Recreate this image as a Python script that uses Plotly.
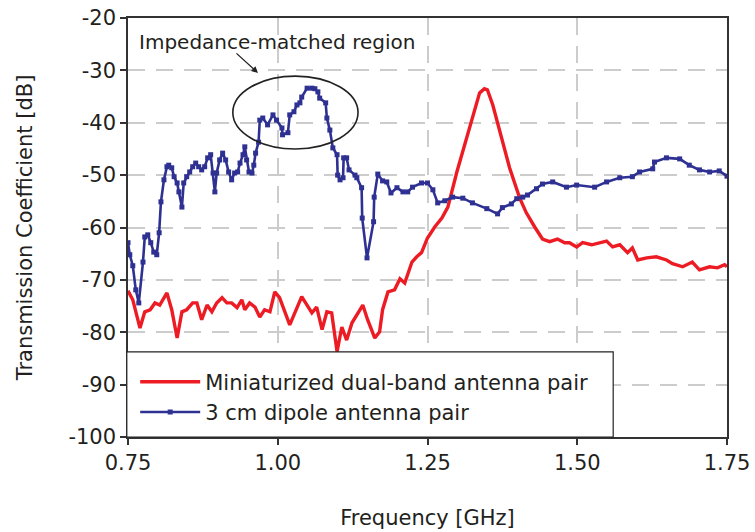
import plotly.graph_objects as go

# ---- data ----
blue_f = [
    0.750, 0.753, 0.758, 0.763, 0.768, 0.775, 0.778, 0.783, 0.788, 0.793,
    0.798, 0.802, 0.805, 0.810, 0.815, 0.818, 0.823, 0.827, 0.832, 0.835,
    0.840, 0.843, 0.848, 0.853, 0.858, 0.863, 0.868, 0.873, 0.878, 0.883,
    0.888, 0.892, 0.895, 0.898, 0.903, 0.908, 0.913, 0.918, 0.923, 0.928,
    0.933, 0.937, 0.942, 0.945, 0.948, 0.952, 0.957, 0.960, 0.963, 0.968,
    0.970, 0.975, 0.983, 0.992, 0.998, 1.007, 1.008, 1.017, 1.020, 1.027,
    1.032, 1.037, 1.040, 1.049, 1.057, 1.062, 1.067, 1.070, 1.080, 1.082,
    1.087, 1.092, 1.099, 1.100, 1.104, 1.109, 1.110, 1.115, 1.119, 1.129,
    1.132, 1.140, 1.141, 1.149, 1.160, 1.161, 1.167, 1.175, 1.182, 1.189,
    1.199, 1.209, 1.217, 1.225, 1.240, 1.250, 1.259, 1.267, 1.279, 1.292,
    1.309, 1.325, 1.349, 1.367, 1.375, 1.390, 1.399, 1.409, 1.417, 1.432,
    1.442, 1.459, 1.482, 1.499, 1.529, 1.549, 1.571, 1.592, 1.604, 1.626,
    1.629, 1.649, 1.671, 1.687, 1.704, 1.721, 1.737, 1.750,
]
blue_db = [
    -62.9, -65.2, -67.3, -71.9, -74.4, -66.6, -61.8, -61.4, -62.9, -64.7,
    -65.2, -61.0, -55.1, -50.9, -48.4, -48.1, -48.6, -50.3, -51.5, -53.2,
    -56.1, -51.5, -50.3, -49.4, -48.4, -47.7, -48.4, -49.0, -48.4, -46.7,
    -46.1, -49.6, -53.2, -49.6, -47.1, -45.8, -47.1, -49.4, -50.9, -49.6,
    -49.4, -47.7, -46.1, -44.6, -47.1, -49.4, -49.6, -48.1, -45.8, -43.7,
    -39.5, -39.1, -40.4, -38.5, -39.5, -41.0, -42.3, -41.9, -38.5, -37.9,
    -36.6, -36.2, -35.1, -33.4, -33.4, -33.5, -34.1, -35.3, -36.2, -39.1,
    -41.4, -44.8, -46.1, -50.0, -50.9, -50.5, -46.7, -46.7, -49.0, -50.0,
    -50.5, -52.4, -58.2, -65.8, -58.9, -54.2, -49.8, -51.1, -51.3, -53.4,
    -52.4, -53.2, -53.2, -52.3, -51.5, -51.5, -52.8, -55.3, -54.9, -54.2,
    -54.4, -55.3, -56.4, -57.4, -56.2, -55.5, -54.5, -54.2, -53.8, -52.6,
    -51.7, -51.3, -52.3, -51.9, -52.3, -51.3, -50.5, -50.3, -49.4, -48.8,
    -47.5, -46.7, -46.9, -48.1, -49.0, -49.4, -49.2, -50.2,
]
red_f = [
    0.750, 0.758, 0.770, 0.778, 0.787, 0.795, 0.803, 0.815, 0.823, 0.832,
    0.840, 0.848, 0.858, 0.865, 0.873, 0.882, 0.890, 0.898, 0.907, 0.915,
    0.923, 0.932, 0.940, 0.945, 0.953, 0.962, 0.970, 0.978, 0.987, 0.995,
    1.003, 1.020, 1.040, 1.057, 1.065, 1.074, 1.082, 1.090, 1.099, 1.107,
    1.115, 1.124, 1.142, 1.150, 1.162, 1.170, 1.175, 1.184, 1.195, 1.204,
    1.212, 1.224, 1.232, 1.240, 1.250, 1.262, 1.274, 1.284, 1.299, 1.315,
    1.329, 1.337, 1.345, 1.350, 1.359, 1.374, 1.387, 1.404, 1.415, 1.429,
    1.442, 1.454, 1.467, 1.479, 1.487, 1.499, 1.509, 1.524, 1.537, 1.549,
    1.559, 1.571, 1.584, 1.592, 1.601, 1.616, 1.632, 1.649, 1.659, 1.676,
    1.692, 1.704, 1.721, 1.734, 1.746, 1.750,
]
red_db = [
    -72.1, -73.8, -79.2, -76.1, -75.7, -74.4, -74.8, -72.5, -75.7, -81.1,
    -76.1, -75.7, -74.4, -74.4, -77.6, -74.8, -76.1, -74.4, -73.4, -74.4,
    -74.4, -75.3, -73.8, -75.7, -74.4, -75.2, -77.1, -75.7, -76.1, -72.3,
    -73.4, -78.6, -73.2, -76.3, -75.2, -79.5, -76.1, -76.3, -83.7, -79.0,
    -81.5, -78.2, -74.8, -77.6, -81.1, -79.9, -75.7, -72.3, -71.9, -69.8,
    -70.6, -66.6, -65.6, -64.8, -62.0, -59.9, -58.2, -56.1, -49.4, -42.9,
    -37.2, -34.3, -33.5, -33.7, -36.6, -42.9, -48.6, -54.4, -57.2, -59.9,
    -62.2, -62.7, -62.2, -62.9, -62.9, -63.7, -62.9, -63.3, -62.9, -62.6,
    -63.7, -63.3, -64.8, -63.9, -66.2, -65.8, -65.6, -66.2, -66.9, -67.5,
    -66.6, -68.1, -67.5, -67.7, -67.1, -67.5,
]
series_names = ["Miniaturized dual-band antenna pair", "3 cm dipole antenna pair"]
x_ticks = [0.75, 1.00, 1.25, 1.50, 1.75]
x_ticklabels = ["0.75", "1.00", "1.25", "1.50", "1.75"]
y_ticks = [-100, -90, -80, -70, -60, -50, -40, -30, -20]
y_ticklabels = ["-100", "-90", "-80", "-70", "-60", "-50", "-40", "-30", "-20"]
annotation_text = "Impedance-matched region"
x_title = "Frequency [GHz]"
y_title = "Transmission Coefficient [dB]"

RED = "#ed1c24"
BLUE = "#2e3192"
INK = "#231f20"
FONT = "DejaVu Sans"

fig = go.Figure()
fig.add_trace(go.Scatter(
    x=red_f, y=red_db, mode="lines", name=series_names[0],
    line=dict(color=RED, width=3.4),
))
fig.add_trace(go.Scatter(
    x=blue_f, y=blue_db, mode="lines+markers", name=series_names[1],
    line=dict(color=BLUE, width=2.6),
    marker=dict(color=BLUE, size=5, symbol="square"),
))

grid = dict(showgrid=True, gridcolor="#cccccc", gridwidth=1.5, griddash="17px,11px")
axis_common = dict(
    showline=True, linecolor="#333333", linewidth=1.5, mirror=True,
    ticks="outside", ticklen=6, tickwidth=1.5, tickcolor="#333333",
    zeroline=False, tickfont=dict(family=FONT, size=21, color=INK),
    automargin=False,
    **grid,
)

fig.update_layout(
    width=755, height=532,
    margin=dict(l=128, r=28, t=18, b=95),
    paper_bgcolor="white", plot_bgcolor="white",
    font=dict(family=FONT, color=INK),
    xaxis=dict(range=[0.75, 1.75], tickvals=x_ticks, ticktext=x_ticklabels,
               title=dict(text=x_title, font=dict(family=FONT, size=21, color=INK), standoff=36),
               **axis_common),
    yaxis=dict(range=[-100, -20], tickvals=y_ticks, ticktext=y_ticklabels,
               title=dict(text=y_title, font=dict(family=FONT, size=21, color=INK), standoff=30),
               **axis_common),
    showlegend=True,
    legend=dict(x=0.012, y=0.18, xanchor="left", yanchor="top",
                bgcolor="rgba(0,0,0,0)", borderwidth=0,
                font=dict(family=FONT, size=21, color=INK),
                itemwidth=60, tracegroupgap=0),
)

# legend frame
fig.add_shape(type="rect", xref="paper", yref="paper", x0=-0.002, x1=0.81, y0=0, y1=0.203,
              line=dict(color="#222222", width=1.2), fillcolor="white", layer="above")

# impedance-matched region ellipse
fig.add_shape(type="circle", xref="x", yref="y", x0=0.925, x1=1.134, y0=-45.0, y1=-31.1,
              line=dict(color="#222222", width=1.6), layer="above")

fig.add_annotation(x=0.998, y=-24.6, xref="x", yref="y", text=annotation_text, showarrow=False,
                   font=dict(family=FONT, size=20, color=INK))
fig.add_annotation(x=0.967, y=-30.5, xref="x", yref="y", text="", showarrow=True,
                   ax=-23, ay=-21, arrowhead=2, arrowsize=1, arrowwidth=1.3, arrowcolor="#222222")

fig.write_html("out.html")
